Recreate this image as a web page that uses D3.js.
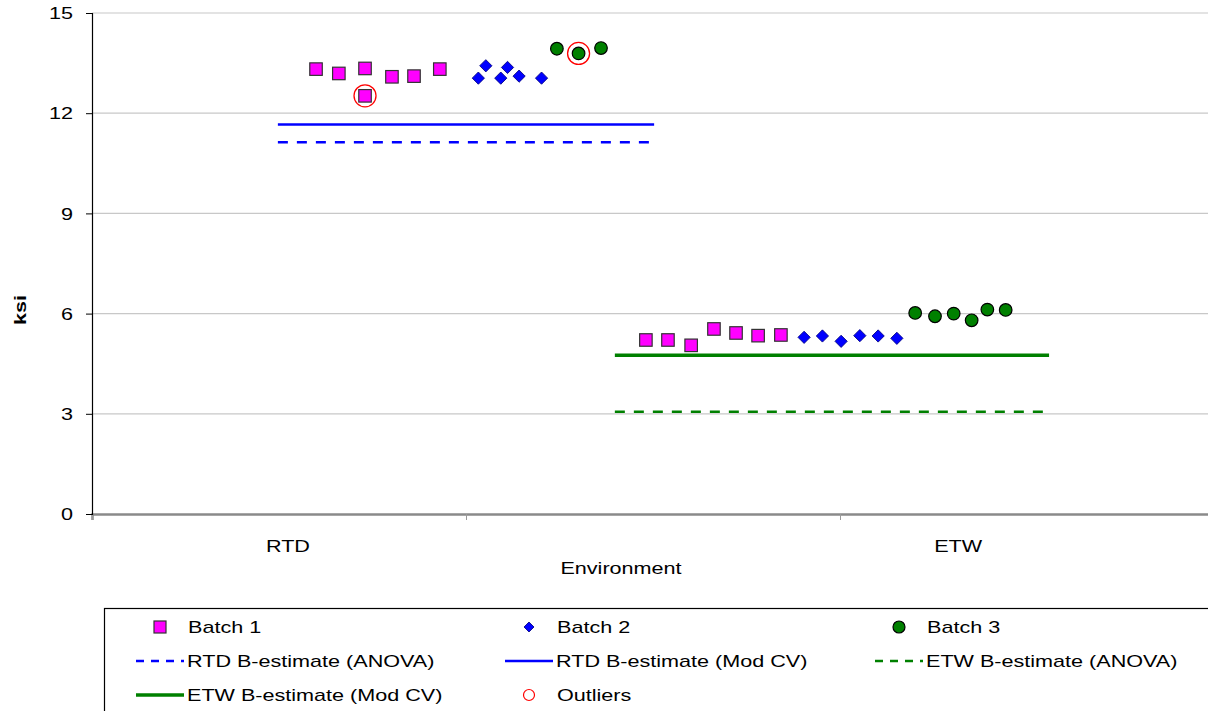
<!DOCTYPE html>
<html>
<head>
<meta charset="utf-8">
<script src="https://cdn.jsdelivr.net/npm/d3@7"></script>
<style>
  body { margin: 0; background: #fff; }
  svg { display: block; font-family: "Liberation Sans", Arial, sans-serif; }
</style>
</head>
<body>
<div id="chart"></div>
<script>
// x is in axis units (one tick = 1), value in ksi
const batch1 = [
  [0.599, 13.32], [0.660, 13.19], [0.730, 13.34], [0.730, 12.52],
  [0.802, 13.09], [0.861, 13.11], [0.930, 13.32],
  [1.481, 5.21], [1.540, 5.21], [1.602, 5.05], [1.663, 5.54],
  [1.722, 5.42], [1.781, 5.34], [1.842, 5.36]
];
const batch2 = [
  [1.033, 13.05], [1.053, 13.42], [1.093, 13.05], [1.111, 13.37],
  [1.142, 13.11], [1.202, 13.05],
  [1.904, 5.29], [1.953, 5.33], [2.003, 5.17], [2.053, 5.34],
  [2.102, 5.33], [2.152, 5.26]
];
const batch3 = [
  [1.243, 13.93], [1.301, 13.79], [1.361, 13.95],
  [2.201, 6.02], [2.254, 5.92], [2.304, 6.00], [2.352, 5.80],
  [2.394, 6.12], [2.443, 6.11]
];
const outliers = [[0.730, 12.52], [1.301, 13.79]];

// B-estimate lines: [x0, x1, value]
const rtdAnova = [0.497, 1.503, 11.13];
const rtdModCV = [0.497, 1.503, 11.66];
const etwAnova = [1.398, 2.559, 3.06];
const etwModCV = [1.398, 2.559, 4.75];

const yTicks = [0, 3, 6, 9, 12, 15];
const xTicks = [0, 1, 2, 3];
const categories = ['RTD', 'ETW'];
const categoryX = [0.524, 2.316];

const legendItems = [
  { label: 'Batch 1', kind: 'square' },
  { label: 'Batch 2', kind: 'diamond' },
  { label: 'Batch 3', kind: 'circle' },
  { label: 'RTD B-estimate (ANOVA)', kind: 'line', color: '#0000ff', dash: true },
  { label: 'RTD B-estimate (Mod CV)', kind: 'line', color: '#0000ff', dash: false },
  { label: 'ETW B-estimate (ANOVA)', kind: 'line', color: '#008000', dash: true },
  { label: 'ETW B-estimate (Mod CV)', kind: 'line', color: '#008000', dash: false, thick: true },
  { label: 'Outliers', kind: 'outlier' }
];

const width = 1208;
const height = 711;
const SX = 1.27; // the original text is stretched sideways

const x = d3.scaleLinear().domain([0, 3]).range([92, 1214]);
const y = d3.scaleLinear().domain([0, 15]).range([514, 13]);

const svg = d3.select('#chart')
  .append('svg')
  .attr('width', width)
  .attr('height', height);

function text(g, px, py, str, anchor = 'middle', size = 17, weight = 'normal') {
  return g.append('text')
    .attr('transform', `translate(${px},${py}) scale(${SX},1)`)
    .attr('text-anchor', anchor)
    .attr('dominant-baseline', 'central')
    .style('font-size', `${size}px`)
    .style('font-weight', weight)
    .attr('fill', '#000')
    .text(str);
}

// gridlines
svg.append('g')
  .selectAll('line')
  .data(yTicks.filter(d => d > 0))
  .join('line')
  .attr('x1', x(0)).attr('x2', width)
  .attr('y1', d => y(d)).attr('y2', d => y(d))
  .attr('stroke', '#c8c8c8')
  .attr('stroke-width', 1.2);

// x axis (gray)
const xAxis = d3.axisBottom(x)
  .tickValues(xTicks)
  .tickSize(6)
  .tickFormat('');
const gx = svg.append('g')
  .attr('transform', `translate(0,${y(0)})`)
  .call(xAxis);
gx.select('.domain').attr('stroke', '#8a8a8a').attr('stroke-width', 2.5);
gx.selectAll('.tick line').attr('stroke', '#9a9a9a');

// y axis (black)
const yAxis = d3.axisLeft(y)
  .tickValues(yTicks)
  .tickSize(6)
  .tickFormat('');
const gy = svg.append('g')
  .attr('transform', `translate(${x(0)},0)`)
  .call(yAxis);
gy.select('.domain').attr('stroke', '#000').attr('stroke-width', 1.2);
gy.selectAll('.tick line').attr('stroke', '#000');

yTicks.forEach(t => text(svg, 73, y(t), String(t), 'end'));
categories.forEach((c, i) => text(svg, x(categoryX[i]), 546, c));
text(svg, 621, 568, 'Environment');

svg.append('text')
  .attr('transform', `translate(20,${310}) rotate(-90) scale(1.27,1)`)
  .attr('text-anchor', 'middle')
  .attr('dominant-baseline', 'central')
  .style('font-size', '17px')
  .style('font-weight', 'bold')
  .text('ksi');

// B-estimate lines
function bLine(d, color, dash, w) {
  svg.append('line')
    .attr('x1', x(d[0])).attr('x2', x(d[1]))
    .attr('y1', y(d[2])).attr('y2', y(d[2]))
    .attr('stroke', color)
    .attr('stroke-width', w)
    .attr('stroke-dasharray', dash ? '10,9' : null);
}
bLine(rtdAnova, '#0000ff', true, 2.5);
bLine(rtdModCV, '#0000ff', false, 2.5);
bLine(etwAnova, '#008000', true, 2.5);
bLine(etwModCV, '#008000', false, 3.5);

// markers
const squareSize = 12.5;
svg.append('g')
  .selectAll('rect')
  .data(batch1)
  .join('rect')
  .attr('x', d => x(d[0]) - squareSize / 2)
  .attr('y', d => y(d[1]) - squareSize / 2)
  .attr('width', squareSize)
  .attr('height', squareSize)
  .attr('fill', '#ff00ff')
  .attr('stroke', '#333')
  .attr('stroke-width', 1.2);

const diamond = d3.symbol().type(d3.symbolSquare).size(75);
svg.append('g')
  .selectAll('path')
  .data(batch2)
  .join('path')
  .attr('d', diamond)
  .attr('transform', d => `translate(${x(d[0])},${y(d[1])}) rotate(45)`)
  .attr('fill', '#0000ff')
  .attr('stroke', '#000080')
  .attr('stroke-width', 0.8);

svg.append('g')
  .selectAll('circle')
  .data(batch3)
  .join('circle')
  .attr('cx', d => x(d[0]))
  .attr('cy', d => y(d[1]))
  .attr('r', 6.3)
  .attr('fill', '#008000')
  .attr('stroke', '#000')
  .attr('stroke-width', 1.2);

svg.append('g')
  .selectAll('circle')
  .data(outliers)
  .join('circle')
  .attr('cx', d => x(d[0]))
  .attr('cy', d => y(d[1]))
  .attr('r', 11)
  .attr('fill', 'none')
  .attr('stroke', '#ff0000')
  .attr('stroke-width', 1.3);

// legend
const legend = svg.append('g');
legend.append('rect')
  .attr('x', 104.5).attr('y', 608.5)
  .attr('width', 1200).attr('height', 200)
  .attr('fill', '#fff')
  .attr('stroke', '#000')
  .attr('stroke-width', 1.2);

const colX = [136, 505, 875];
const rowY = [627, 661, 695];
legendItems.forEach((item, i) => {
  const lx = colX[i % 3];
  const ly = rowY[Math.floor(i / 3)];
  const cx = lx + 24;
  if (item.kind === 'square') {
    legend.append('rect')
      .attr('x', cx - 6).attr('y', ly - 6)
      .attr('width', 12).attr('height', 12)
      .attr('fill', '#ff00ff').attr('stroke', '#333').attr('stroke-width', 1.2);
  } else if (item.kind === 'diamond') {
    legend.append('path')
      .attr('d', d3.symbol().type(d3.symbolSquare).size(50))
      .attr('transform', `translate(${cx},${ly}) rotate(45)`)
      .attr('fill', '#0000ff').attr('stroke', '#000080').attr('stroke-width', 0.8);
  } else if (item.kind === 'circle') {
    legend.append('circle')
      .attr('cx', cx).attr('cy', ly).attr('r', 6)
      .attr('fill', '#008000').attr('stroke', '#000').attr('stroke-width', 1.2);
  } else if (item.kind === 'outlier') {
    legend.append('circle')
      .attr('cx', cx).attr('cy', ly).attr('r', 5.5)
      .attr('fill', 'none').attr('stroke', '#ff0000').attr('stroke-width', 1.2);
  } else {
    legend.append('line')
      .attr('x1', lx).attr('x2', lx + 48)
      .attr('y1', ly).attr('y2', ly)
      .attr('stroke', item.color)
      .attr('stroke-width', item.thick ? 3.5 : 2.5)
      .attr('stroke-dasharray', item.dash ? '8,7' : null);
  }
  const tx = item.kind === 'line' ? lx + 51 : lx + 52;
  text(legend, tx, ly, item.label, 'start');
});
</script>
</body>
</html>
